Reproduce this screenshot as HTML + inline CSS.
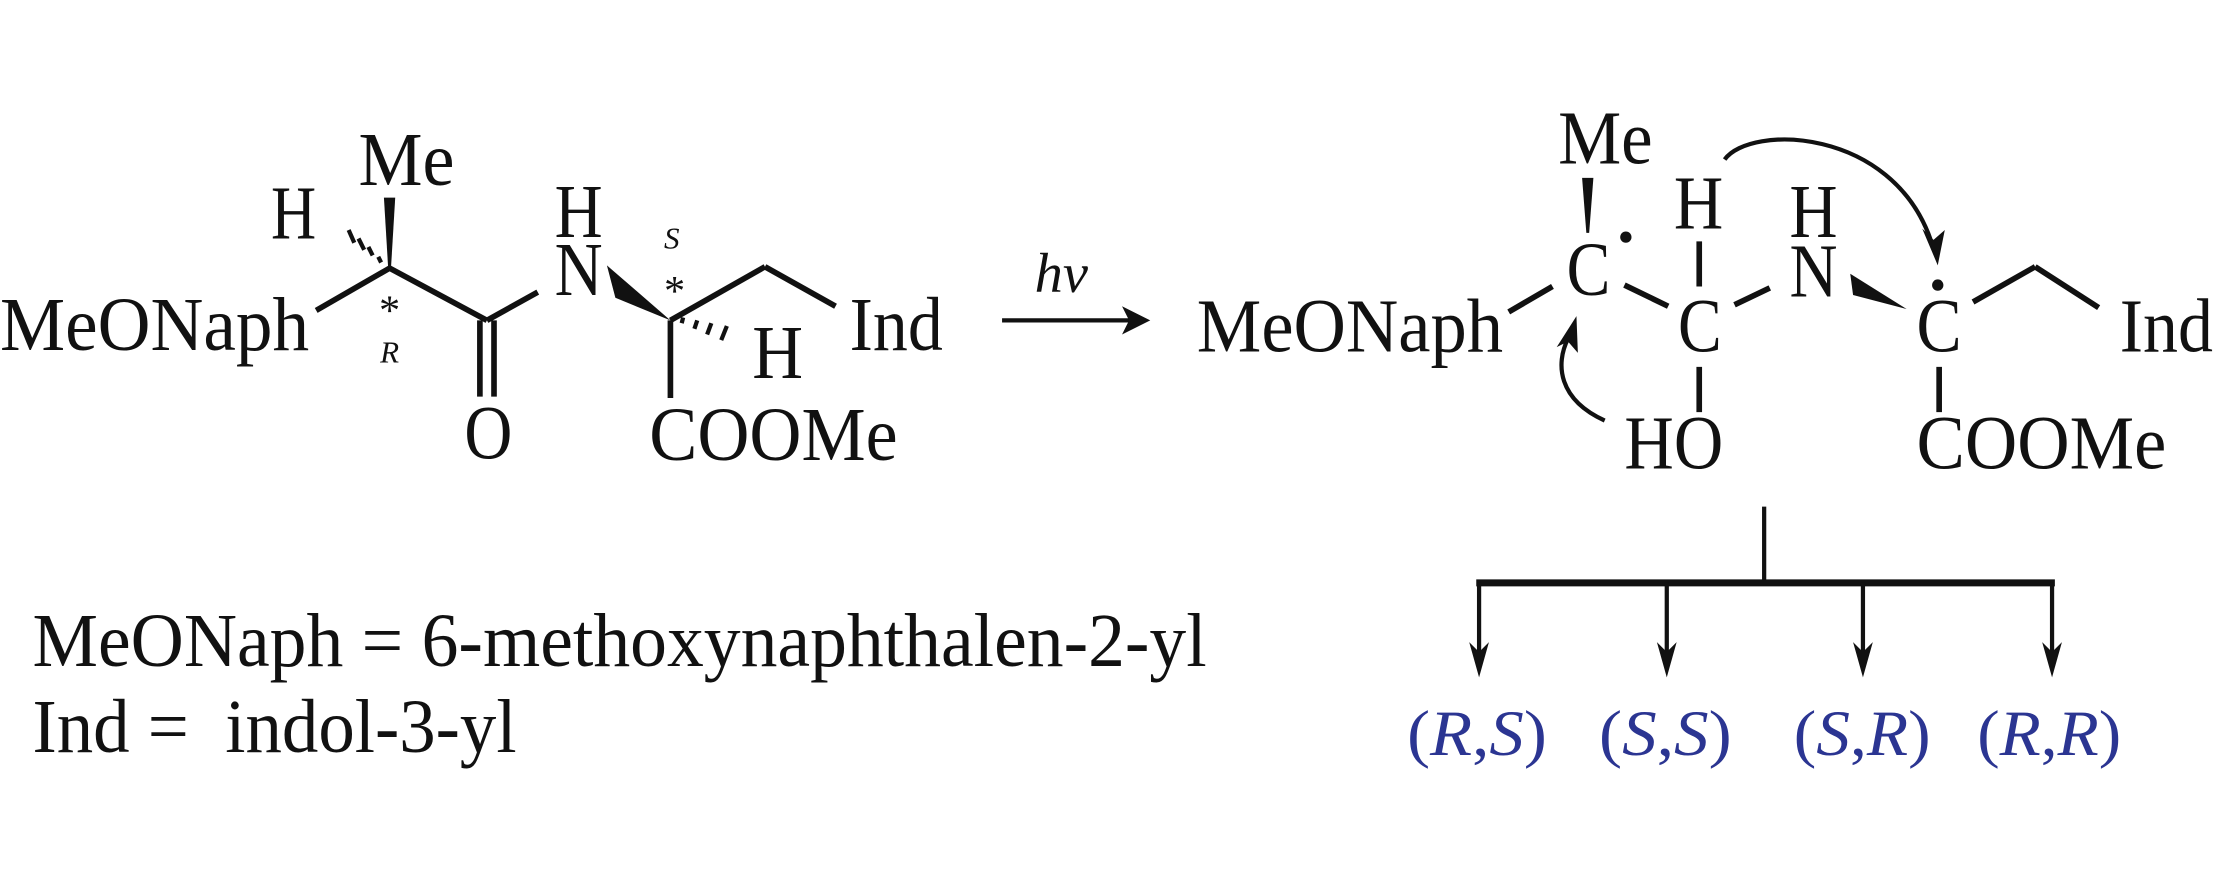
<!DOCTYPE html>
<html><head><meta charset="utf-8"><style>html,body{margin:0;padding:0;background:#fff}svg{display:block}</style></head>
<body>
<svg xmlns="http://www.w3.org/2000/svg" width="2213" height="886" viewBox="0 0 1568 627.8" font-family="Liberation Serif, serif" fill="#111">
<g font-size="54">
<text x="0" y="248" textLength="219" lengthAdjust="spacingAndGlyphs">MeONaph</text>
<text x="254" y="131" textLength="68" lengthAdjust="spacingAndGlyphs">Me</text>
<text x="192" y="169" textLength="32" lengthAdjust="spacingAndGlyphs">H</text>
<text x="329" y="325" textLength="34" lengthAdjust="spacingAndGlyphs">O</text>
<text x="393" y="168" textLength="34" lengthAdjust="spacingAndGlyphs">H</text>
<text x="393" y="209" textLength="34" lengthAdjust="spacingAndGlyphs">N</text>
<text x="533" y="268" textLength="36" lengthAdjust="spacingAndGlyphs">H</text>
<text x="602" y="248" textLength="66" lengthAdjust="spacingAndGlyphs">Ind</text>
<text x="460" y="326" textLength="176" lengthAdjust="spacingAndGlyphs">COOMe</text>
</g>
<g stroke="#111" stroke-width="4" fill="none">
<line x1="276" y1="190" x2="224" y2="220"/>
<line x1="276" y1="190" x2="345" y2="227"/>
<line x1="345" y1="227" x2="381" y2="207"/>
<line x1="340" y1="227" x2="340" y2="281"/>
<line x1="350" y1="227" x2="350" y2="281"/>
<line x1="475" y1="227" x2="542" y2="189"/>
<line x1="542" y1="189" x2="592" y2="217"/>
<line x1="475" y1="227" x2="475" y2="282"/>
</g>
<polygon points="272,140 280,140 277,190 275,190" fill="#111"/>
<g stroke="#111" stroke-width="3">
<line x1="270" y1="186" x2="268" y2="182"/><line x1="264" y1="181" x2="261" y2="175"/><line x1="258" y1="177" x2="254" y2="169"/><line x1="251" y1="172" x2="247" y2="163"/>
<line x1="483" y1="229" x2="484" y2="225"/><line x1="492" y1="233" x2="494" y2="227"/><line x1="501" y1="237" x2="504" y2="229"/><line x1="511" y1="241" x2="515" y2="231"/>
</g>
<polygon points="430,188 436,211 475,227" fill="#111"/>
<text x="276" y="230" font-size="30" text-anchor="middle">*</text>
<text x="276" y="257" font-size="22" font-style="italic" text-anchor="middle">R</text>
<text x="478" y="216" font-size="30" text-anchor="middle">*</text>
<text x="476" y="176" font-size="22" font-style="italic" text-anchor="middle">S</text>
<line x1="710" y1="227" x2="800" y2="227" stroke="#111" stroke-width="3"/>
<polygon points="795,217 815,227 795,237 800,227" fill="#111"/>
<text x="752" y="207" font-size="40" font-style="italic" text-anchor="middle">hv</text>
<g font-size="54">
<text x="848" y="249" textLength="217" lengthAdjust="spacingAndGlyphs">MeONaph</text>
<text x="1104" y="116" textLength="67" lengthAdjust="spacingAndGlyphs">Me</text>
<text x="1110" y="209" textLength="31" lengthAdjust="spacingAndGlyphs">C</text>
<text x="1186" y="162" textLength="35" lengthAdjust="spacingAndGlyphs">H</text>
<text x="1189" y="249" textLength="31" lengthAdjust="spacingAndGlyphs">C</text>
<text x="1268" y="168" textLength="34" lengthAdjust="spacingAndGlyphs">H</text>
<text x="1268" y="210" textLength="34" lengthAdjust="spacingAndGlyphs">N</text>
<text x="1358" y="249" textLength="32" lengthAdjust="spacingAndGlyphs">C</text>
<text x="1502" y="249" textLength="66" lengthAdjust="spacingAndGlyphs">Ind</text>
<text x="1151" y="332" textLength="70" lengthAdjust="spacingAndGlyphs">HO</text>
<text x="1358" y="332" textLength="177" lengthAdjust="spacingAndGlyphs">COOMe</text>
</g>
<circle cx="1152" cy="168" r="4" fill="#111"/>
<circle cx="1373" cy="202" r="4" fill="#111"/>
<polygon points="1121,126 1129,126 1126,165 1124,165" fill="#111"/>
<g stroke="#111" stroke-width="4" fill="none">
<line x1="1069" y1="221" x2="1100" y2="203"/>
<line x1="1151" y1="202" x2="1182" y2="217"/>
<line x1="1204" y1="171" x2="1204" y2="203"/>
<line x1="1229" y1="216" x2="1254" y2="204"/>
<line x1="1204" y1="260" x2="1204" y2="292"/>
<line x1="1374" y1="260" x2="1374" y2="292"/>
<line x1="1398" y1="214" x2="1442" y2="189"/>
<line x1="1442" y1="189" x2="1487" y2="218"/>
</g>
<polygon points="1311,194 1313,209 1351,219" fill="#111"/>
<path d="M1137,298 C1104,283 1102,258 1111,240" stroke="#111" stroke-width="3" fill="none"/>
<polygon points="1117,224 1118,250 1111,242 1103,246" fill="#111"/>
<path d="M1222,113 C1240,88 1340,90 1368,170" stroke="#111" stroke-width="3" fill="none"/>
<polygon points="1373,188 1362,162 1370,170 1378,163" fill="#111"/>
<g stroke="#111" fill="none">
<line x1="1250" y1="359" x2="1250" y2="413" stroke-width="3"/>
<line x1="1046" y1="413" x2="1456" y2="413" stroke-width="5"/>
<line x1="1048" y1="413" x2="1048" y2="465" stroke-width="3"/>
<line x1="1181" y1="413" x2="1181" y2="465" stroke-width="3"/>
<line x1="1320" y1="413" x2="1320" y2="465" stroke-width="3"/>
<line x1="1454" y1="413" x2="1454" y2="465" stroke-width="3"/>
</g>
<g fill="#111">
<polygon points="1041,455 1048,480 1055,455 1048,462"/>
<polygon points="1174,455 1181,480 1188,455 1181,462"/>
<polygon points="1313,455 1320,480 1327,455 1320,462"/>
<polygon points="1447,455 1454,480 1461,455 1454,462"/>
</g>
<g font-size="46" fill="#2b3592">
<text x="997" y="535" textLength="99" lengthAdjust="spacingAndGlyphs">(<tspan font-style="italic">R</tspan>,<tspan font-style="italic">S</tspan>)</text>
<text x="1133" y="535" textLength="94" lengthAdjust="spacingAndGlyphs">(<tspan font-style="italic">S</tspan>,<tspan font-style="italic">S</tspan>)</text>
<text x="1271" y="535" textLength="97" lengthAdjust="spacingAndGlyphs">(<tspan font-style="italic">S</tspan>,<tspan font-style="italic">R</tspan>)</text>
<text x="1401" y="535" textLength="102" lengthAdjust="spacingAndGlyphs">(<tspan font-style="italic">R</tspan>,<tspan font-style="italic">R</tspan>)</text>
</g>
<g font-size="54">
<text x="23" y="472" textLength="832" lengthAdjust="spacingAndGlyphs">MeONaph = 6-methoxynaphthalen-2-yl</text>
<text x="23" y="533" textLength="343" lengthAdjust="spacingAndGlyphs" xml:space="preserve">Ind =  indol-3-yl</text>
</g>
</svg>
</body></html>
